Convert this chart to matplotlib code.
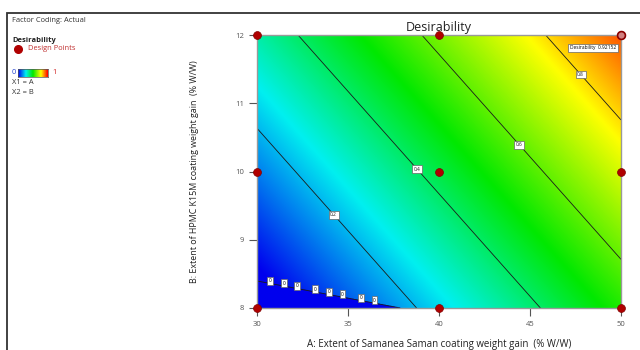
import numpy as np
import matplotlib
matplotlib.use("Agg")
import matplotlib.pyplot as plt
from matplotlib.colors import LinearSegmentedColormap
from matplotlib.patches import Rectangle

plt.rcParams["font.family"] = ["Open Sans", "DejaVu Sans"]

# Factor ranges (actual units)
A_RANGE = [30, 50]
B_RANGE = [8, 12]

# Fitted desirability surface: d = c0 + cA*A + cB*B (clipped to 0..1)
C0, CA, CB = -1.723, 0.0294, 0.0979
# Constraint boundary (d = 0 below this line): B = Z0 + ZA*(A - 30)
Z0, ZA = 8.396, -0.0504

CONTOUR_LEVELS = [0.2, 0.4, 0.6, 0.8]
LABEL_POS = [(34.3, 9.39), (38.85, 10.05), (44.45, 10.40), (47.86, 11.44)]
ZERO_LABEL_A = [30.7, 31.5, 32.2, 33.2, 33.95, 34.7, 35.7, 36.45]

design_a = [30, 30, 30, 40, 40, 40, 50, 50, 50]
design_b = [8, 10, 12, 8, 10, 12, 8, 10, 12]

opt_point = (50, 12)
opt_value = 0.92152

x_ticks = [30, 35, 40, 45, 50]
y_ticks = [8, 9, 10, 11, 12]

cmap = LinearSegmentedColormap.from_list(
    "de", [(0.0, "#0000EE"), (0.26, "#00F0F0"), (0.5, "#00E800"),
           (0.77, "#FFFF00"), (1.0, "#FF0000")])

fig = plt.figure(figsize=(6.4, 3.5), dpi=100)

# outer frame
fig.patches.append(Rectangle((7 / 640, -0.1), 1.2, 1 - 13 / 350 + 0.1,
                             transform=fig.transFigure, fill=False,
                             edgecolor="#333333", linewidth=1.3))

ax = fig.add_axes([257 / 640, 1 - 308 / 350, 364 / 640, 273 / 350])

a = np.linspace(A_RANGE[0], A_RANGE[1], 500)
b = np.linspace(B_RANGE[0], B_RANGE[1], 500)
AA, BB = np.meshgrid(a, b)
d = np.clip(C0 + CA * AA + CB * BB, 0, 1)
g = BB - (Z0 + ZA * (AA - A_RANGE[0]))
d[g < 0] = 0

ax.imshow(d, origin="lower", extent=[*A_RANGE, *B_RANGE], aspect="auto",
          cmap=cmap, vmin=0, vmax=1, interpolation="bilinear")

cs = ax.contour(AA, BB, d, levels=CONTOUR_LEVELS, colors="#1a1a1a",
                linewidths=0.6)
labels = ax.clabel(cs, fmt="%g", fontsize=3.5, inline=False, manual=LABEL_POS)
for t in labels:
    t.set_rotation(0)
    t.set_bbox(dict(boxstyle="square,pad=0.3", fc="white", ec="#666666", lw=0.5))

# zero boundary
ax.contour(AA, BB, g, levels=[0], colors="#1a1a1a", linewidths=0.6)
zb = [Z0 + ZA * (av - A_RANGE[0]) + 0.04 for av in ZERO_LABEL_A]
for av, bv in zip(ZERO_LABEL_A, zb):
    ax.text(av, bv, "0", fontsize=3.5, ha="center", va="center",
            bbox=dict(boxstyle="square,pad=0.3", fc="white", ec="#666666", lw=0.5))

# design points
ax.scatter(design_a, design_b, s=32, c="#B00000", edgecolors="#800000",
           linewidths=0.5, zorder=5, clip_on=False)
ax.scatter([opt_point[0]], [opt_point[1]], s=32, c="#D08080",
           edgecolors="#8B0000", linewidths=1.2, zorder=6, clip_on=False)
ax.text(opt_point[0] - 0.25, opt_point[1] - 0.15,
        f"Desirability  {opt_value}", fontsize=3.5, ha="right", va="top",
        bbox=dict(boxstyle="square,pad=0.35", fc="white", ec="#666666", lw=0.5))

ax.set_xlim(*A_RANGE)
ax.set_ylim(*B_RANGE)
ax.set_xticks(x_ticks)
ax.set_yticks(y_ticks)
ax.tick_params(colors="#555555", labelsize=5.5, pad=3, width=0.8,
               direction="out", length=6)
for s in ax.spines.values():
    s.set_color("#999999")
    s.set_linewidth(1.0)

ax.set_title("Desirability", fontsize=9, color="#222222", pad=3)
ax.set_xlabel("A: Extent of Samanea Saman coating weight gain  (% W/W)",
              fontsize=7, color="#222222", labelpad=8)
ax.set_ylabel("B: Extent of HPMC K15M coating weight gain  (% W/W)",
              fontsize=6.4, color="#222222", labelpad=26)

# left-side legend panel
fs = 5.4
fig.text(12 / 640, 1 - 20 / 350, "Factor Coding: Actual", fontsize=fs,
         color="#333333", va="center")
fig.text(12 / 640, 1 - 40 / 350, "Desirability", fontsize=fs, fontweight="bold",
         color="#222222", va="center")
fig.text(28 / 640, 1 - 49 / 350, "Design Points", fontsize=fs, color="#C03030",
         va="center")
fig.add_artist(plt.Line2D([18 / 640], [1 - 49 / 350], marker="o",
                          markersize=5.5, color="#B00000", linestyle="none",
                          transform=fig.transFigure))
cax = fig.add_axes([18 / 640, 1 - 77 / 350, 30 / 640, 8 / 350])
cax.imshow(np.linspace(0, 1, 100)[None, :], aspect="auto", cmap=cmap)
cax.set_xticks([])
cax.set_yticks([])
for s in cax.spines.values():
    s.set_color("#555555")
    s.set_linewidth(0.5)
fig.text(12 / 640, 1 - 73 / 350, "0", fontsize=fs, color="#2040D0", va="center")
fig.text(52 / 640, 1 - 73 / 350, "1", fontsize=fs, color="#D02020", va="center")
fig.text(12 / 640, 1 - 83 / 350, "X1 = A", fontsize=fs, color="#333333", va="center")
fig.text(12 / 640, 1 - 93 / 350, "X2 = B", fontsize=fs, color="#333333", va="center")

fig.savefig("out.png", dpi=100)
